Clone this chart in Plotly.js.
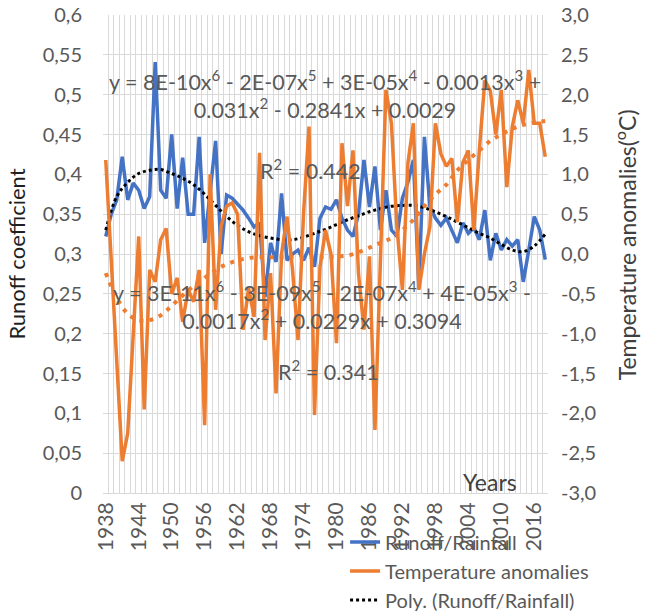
<!DOCTYPE html>
<html><head><meta charset="utf-8">
<script src="https://cdn.plot.ly/plotly-3.0.1.min.js"></script>
<style>html,body{margin:0;padding:0;background:#fff}#chart{width:645px;height:614px}</style>
</head><body><div id="chart"></div>
<script>
const years = [1938,1939,1940,1941,1942,1943,1944,1945,1946,1947,1948,1949,1950,1951,1952,1953,1954,1955,1956,1957,1958,1959,1960,1961,1962,1963,1964,1965,1966,1967,1968,1969,1970,1971,1972,1973,1974,1975,1976,1977,1978,1979,1980,1981,1982,1983,1984,1985,1986,1987,1988,1989,1990,1991,1992,1993,1994,1995,1996,1997,1998,1999,2000,2001,2002,2003,2004,2005,2006,2007,2008,2009,2010,2011,2012,2013,2014,2015,2016,2017,2018];

const runoffRainfall = [0.322,0.35,0.368,0.422,0.368,0.389,0.38,0.357,0.372,0.541,
0.38,0.37,0.45,0.357,0.421,0.35,0.35,0.447,0.314,0.38,
0.442,0.30,0.374,0.37,0.362,0.355,0.345,0.334,0.339,0.246,
0.314,0.29,0.376,0.292,0.30,0.305,0.292,0.308,0.284,0.345,
0.359,0.356,0.368,0.345,0.33,0.322,0.35,0.418,0.359,0.41,
0.33,0.38,0.33,0.322,0.37,0.39,0.418,0.259,0.447,0.36,
0.345,0.336,0.345,0.33,0.314,0.339,0.326,0.333,0.318,0.355,
0.292,0.326,0.305,0.318,0.31,0.318,0.265,0.305,0.347,0.33,0.293];

const temperatureAnomalies = [1.18,-0.1,-1.4,-2.6,-2.25,-1.0,0.22,-1.95,-0.2,-0.35,
0.18,0.32,-0.5,-0.3,-0.85,-0.45,-0.6,-0.2,-2.15,1.0,
-0.7,0.35,0.6,0.64,0.5,-0.95,-0.43,-0.79,1.27,-1.08,
-0.24,-1.75,0.0,0.47,-0.2,-1.08,0.5,1.6,-2.02,-0.16,
0.3,0.0,-1.12,1.39,0.6,1.3,-0.24,-0.95,-0.03,-2.21,
0.0,2.06,1.64,0.34,-0.45,1.14,1.64,-0.45,0.0,0.34,
1.64,1.26,1.1,1.2,0.4,1.15,1.3,0.3,1.3,2.18,
2.05,1.5,2.06,0.84,1.6,1.93,1.64,2.31,1.64,1.64,1.22];

const trendYears = [1938,1940,1942,1944,1946,1948,1950,1952,1954,1956,1958,1960,1962,1964,1966,1968,1970,1972,1974,1976,1978,1980,1982,1984,1986,1988,1990,1992,1994,1996,1998,2000,2002,2004,2006,2008,2010,2012,2014,2016,2018];
const runoffPolyTrend = [0.330,0.372,0.390,0.401,0.405,0.406,0.401,0.395,0.387,0.375,
0.361,0.347,0.336,0.328,0.323,0.320,0.318,0.318,0.321,0.326,
0.331,0.337,0.343,0.348,0.353,0.357,0.360,0.361,0.361,0.358,
0.353,0.347,0.340,0.333,0.326,0.320,0.312,0.305,0.303,0.310,0.325];
const tempPolyTrend = [-0.24,-0.55,-0.75,-0.83,-0.83,-0.77,-0.65,-0.52,-0.40,-0.30,
-0.20,-0.13,-0.08,-0.05,-0.04,-0.04,-0.04,-0.04,-0.04,-0.04,
-0.04,-0.03,-0.02,0.02,0.08,0.14,0.20,0.30,0.43,0.60,
0.75,0.87,1.05,1.18,1.30,1.42,1.50,1.57,1.62,1.65,1.67];

const xTickYears = [1938,1944,1950,1956,1962,1968,1974,1980,1986,1992,1998,2004,2010,2016];
const xTickLabels = ['1938','1944','1950','1956','1962','1968','1974','1980','1986','1992','1998','2004','2010','2016'];
const leftTickVals = [0,0.05,0.1,0.15,0.2,0.25,0.3,0.35,0.4,0.45,0.5,0.55,0.6];
const leftTickText = ['0','0,05','0,1','0,15','0,2','0,25','0,3','0,35','0,4','0,45','0,5','0,55','0,6'];
const rightTickVals = [-3,-2.5,-2,-1.5,-1,-0.5,0,0.5,1,1.5,2,2.5,3];
const rightTickText = ['-3,0','-2,5','-2,0','-1,5','-1,0','-0,5','0,0','0,5','1,0','1,5','2,0','2,5','3,0'];

const FONT = 'Lato, "Liberation Sans", sans-serif';
const GRAY = '#595959';

const traces = [
  {x: years, y: runoffRainfall, type:'scatter', mode:'lines', name:'Runoff/Rainfall',
   line:{color:'#4472C4', width:3.5}, legendrank:1, yaxis:'y'},
  {x: trendYears, y: runoffPolyTrend, type:'scatter', mode:'lines', name:'Poly. (Runoff/Rainfall)',
   line:{color:'#000000', width:3, dash:'dot', shape:'spline'}, legendrank:3, yaxis:'y'},
  {x: years, y: temperatureAnomalies, type:'scatter', mode:'lines', name:'Temperature anomalies',
   line:{color:'#ED7D31', width:3.5}, legendrank:2, yaxis:'y2'},
  {x: trendYears, y: tempPolyTrend, type:'scatter', mode:'lines', name:'Poly. (Temperature anomalies)',
   line:{color:'#ED7D31', width:4, dash:'4px,6px', shape:'spline'}, showlegend:false, yaxis:'y2'}
];

const layout = {
  width:645, height:614,
  margin:{l:103, r:97, t:15, b:121, autoexpand:false},
  paper_bgcolor:'#ffffff', plot_bgcolor:'#ffffff',
  font:{family:FONT, size:20, color:GRAY},
  showlegend:true,
  legend:{xref:'container', yref:'container', x:0.535, y:0.149, xanchor:'left', yanchor:'top',
          bgcolor:'rgba(0,0,0,0)', font:{family:FONT, size:20, color:GRAY}, tracegroupgap:0},
  xaxis:{range:[1937.5, 2018.5], tickvals:xTickYears, ticktext:xTickLabels, tickangle:-90,
         showgrid:false, zeroline:false, showline:true, linecolor:'#D9D9D9', linewidth:1,
         ticks:'', tickfont:{size:21, color:GRAY},
         minor:{tick0:1937.5, dtick:1, showgrid:true, gridcolor:'#D9D9D9', gridwidth:1, ticks:''}},
  yaxis:{range:[0,0.6], tickvals:leftTickVals, ticktext:leftTickText, showgrid:true,
         gridcolor:'#D9D9D9', gridwidth:1, zeroline:false, showline:false, ticks:'',
         tickfont:{size:20, color:GRAY}, ticklabelstandoff:20,
         title:{text:'Runoff coefficient', font:{size:22, color:'#1f1f1f'}, standoff:10}},
  yaxis2:{range:[-3,3], overlaying:'y', side:'right', tickvals:rightTickVals, ticktext:rightTickText,
          showgrid:false, zeroline:false, showline:false, ticks:'', tickfont:{size:20, color:GRAY},
          ticklabelstandoff:12},
  annotations:[
    {xref:'paper', yref:'paper', x:1.175, y:0.52, xanchor:'center', yanchor:'middle', showarrow:false,
     textangle:-90, text:'Temperature anomalies(<sup>o</sup>C)', font:{size:23, color:'#404040'}},
    {xref:'paper', yref:'paper', x:0.499, y:0.833, xanchor:'center', yanchor:'middle', showarrow:false, align:'center',
     text:'y = 8E-10x<sup>6</sup> - 2E-07x<sup>5</sup> + 3E-05x<sup>4</sup> - 0.0013x<sup>3</sup> +<br>0.031x<sup>2</sup> - 0.2841x + 0.0029',
     font:{size:21.5, color:GRAY}},
    {xref:'paper', yref:'paper', x:0.467, y:0.676, xanchor:'center', yanchor:'middle', showarrow:false,
     text:'R<sup>2</sup> = 0.442', font:{size:21.5, color:GRAY}},
    {xref:'paper', yref:'paper', x:0.492, y:0.393, xanchor:'center', yanchor:'middle', showarrow:false, align:'center',
     text:'y = 3E-11x<sup>6</sup> - 3E-09x<sup>5</sup> - 2E-07x<sup>4</sup> + 4E-05x<sup>3</sup> -<br>0.0017x<sup>2</sup> + 0.0229x + 0.3094',
     font:{size:21.5, color:GRAY}},
    {xref:'paper', yref:'paper', x:0.506, y:0.257, xanchor:'center', yanchor:'middle', showarrow:false,
     text:'R<sup>2</sup> = 0.341', font:{size:21.5, color:GRAY}},
    {xref:'paper', yref:'paper', x:0.87, y:0.023, xanchor:'center', yanchor:'middle', showarrow:false,
     text:'Years', font:{size:23, color:'#404040'}}
  ]
};

Plotly.newPlot('chart', traces, layout, {staticPlot:true, displayModeBar:false});
</script>
</body></html>
